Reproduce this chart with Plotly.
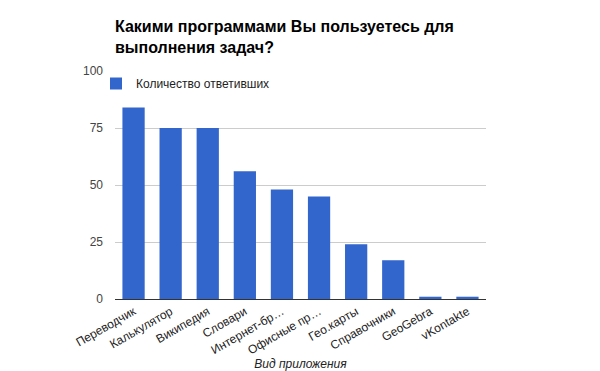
import plotly.graph_objects as go

categories = ["Переводчик", "Калькулятор", "Википедия", "Словари", "Интернет-бр…",
              "Офисные пр…", "Гео.карты", "Справочники", "GeoGebra", "vKontakte"]
values = [84, 75, 75, 56, 48, 45, 24, 17, 1, 1]
series_name = "Количество ответивших"
y_ticks = [0, 25, 50, 75, 100]

fig = go.Figure()
fig.add_trace(go.Bar(x=categories, y=values, name=series_name,
                     marker=dict(color="#3366cc", line=dict(width=0))))

fig.update_layout(
    width=600, height=371,
    margin=dict(l=115, r=114, t=71, b=72),
    paper_bgcolor="white", plot_bgcolor="white",
    font=dict(family="Liberation Sans, Arial", size=12, color="#222222"),
    title=dict(text="<b>Какими программами Вы пользуетесь для<br>выполнения задач?</b>",
               x=115/600, xanchor="left", xref="container",
               y=1 - 32/371, yanchor="top", yref="container",
               font=dict(size=16, color="#000000", family="Liberation Sans, Arial")),
    showlegend=True,
    legend=dict(x=-19/371, y=1 + 2/228, xanchor="left", yanchor="top", bgcolor="rgba(0,0,0,0)",
                font=dict(size=12, color="#222222"), itemwidth=30,
                tracegroupgap=0, traceorder="normal"),
    bargap=0.4,
)
fig.update_xaxes(
    tickangle=-30, showline=True, linecolor="#333333", linewidth=1, automargin=False,
    showgrid=False, ticks="", tickfont=dict(size=12, color="#222222"),
    title=dict(text="<i>Вид приложения</i>", font=dict(size=12, color="#222222"), standoff=4),
)
fig.update_yaxes(
    range=[0, 100], tickvals=y_ticks, showgrid=True, gridcolor="#cccccc", gridwidth=1,
    zeroline=False, ticks="", ticklabelstandoff=11, automargin=False,
    tickfont=dict(size=12, color="#444444"),
)
fig.write_html("out.html", config={"displayModeBar": False},
               post_script="document.body.style.margin='0';document.body.style.overflow='hidden';")
